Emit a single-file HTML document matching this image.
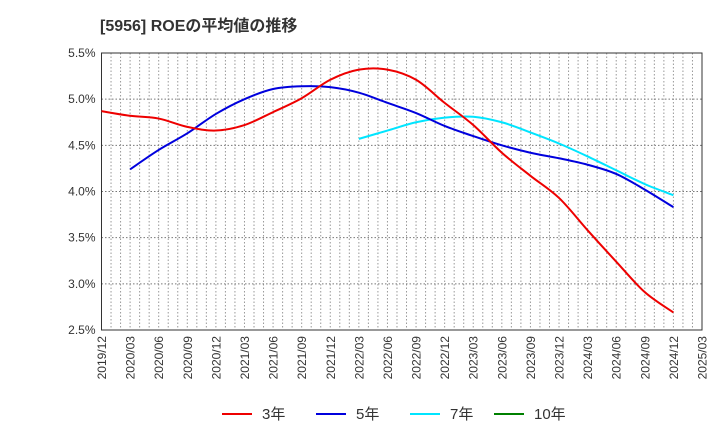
<!DOCTYPE html>
<html><head><meta charset="utf-8"><style>
body{margin:0;background:#fff;font-family:"Liberation Sans","Noto Sans CJK JP",sans-serif}
</style></head><body>
<svg width="720" height="440" xmlns="http://www.w3.org/2000/svg">
<text x="100" y="31" font-size="16" font-weight="bold" fill="#333" font-family="Liberation Sans,Noto Sans CJK JP,sans-serif">[5956]  ROEの平均値の推移</text>
<g id="grid"></g><g id="axes"></g><g id="series"></g><g id="legend"></g>
</svg>
<script>
const xLabels=["2019/12","2020/03","2020/06","2020/09","2020/12","2021/03","2021/06","2021/09","2021/12","2022/03","2022/06","2022/09","2022/12","2023/03","2023/06","2023/09","2023/12","2024/03","2024/06","2024/09","2024/12","2025/03"];
const yTicks=[2.5,3.0,3.5,4.0,4.5,5.0,5.5];
const roe3=[4.87,4.82,4.79,4.70,4.66,4.72,4.86,5.01,5.21,5.32,5.32,5.21,4.96,4.72,4.42,4.17,3.93,3.58,3.24,2.91,2.69];
const roe5=[null,4.24,4.45,4.63,4.84,5.00,5.11,5.14,5.13,5.07,4.96,4.85,4.71,4.60,4.50,4.42,4.36,4.29,4.19,4.02,3.83];
const roe7=[null,null,null,null,null,null,null,null,null,4.57,4.66,4.75,4.80,4.81,4.75,4.64,4.52,4.38,4.23,4.08,3.96];
const roe10=[];
const L=101.5,R=702,T=53,B=330,ns="http://www.w3.org/2000/svg";
const xs=i=>L+i*(R-L)/21, ys=v=>B-(v-2.5)*(B-T)/3;
function mk(t,a,p){const e=document.createElementNS(ns,t);for(const k in a)e.setAttribute(k,a[k]);document.getElementById(p).appendChild(e);return e;}
for(let m=1;m<63;m++){const x=L+m*(R-L)/63;const l=mk('line',{x1:x,x2:x,y1:T,y2:B,stroke:'#999','stroke-dasharray':'1.5,2','stroke-width':1},'grid');

}
yTicks.forEach(v=>{const y=ys(v);const l=mk('line',{x1:L,x2:R,y1:y,y2:y,stroke:'#777','stroke-dasharray':'1.5,2'},'grid');


const t=mk('text',{x:L-6,y:y+4,'text-anchor':'end','font-size':12,fill:'#333'},'axes');t.textContent=v.toFixed(1)+'%';

});
const fr=mk('rect',{x:L,y:T,width:R-L,height:B-T,fill:'none',stroke:'#333'},'axes');


xLabels.forEach((s,i)=>{const x=xs(i);const t=mk('text',{x:0,y:0,transform:`translate(${x+4.5},${B+6}) rotate(-90)`,'text-anchor':'end','font-size':12,fill:'#333'},'axes');t.textContent=s;

});
function path(data,col,name){const p=[];data.forEach((v,i)=>{if(v!=null)p.push([xs(i),ys(v)]);});if(p.length<2)return;
let d=`M${p[0][0]},${p[0][1]}`;for(let i=0;i<p.length-1;i++){const p0=p[i-1]||p[i],p1=p[i],p2=p[i+1],p3=p[i+2]||p2;
d+=` C${p1[0]+(p2[0]-p0[0])/6},${p1[1]+(p2[1]-p0[1])/6} ${p2[0]-(p3[0]-p1[0])/6},${p2[1]-(p3[1]-p1[1])/6} ${p2[0]},${p2[1]}`;}
const e=mk('path',{d:d,fill:'none',stroke:col,'stroke-width':2},'series');

}
path(roe7,'#00e5ff','line-7y');path(roe5,'#0000dd','line-5y');path(roe3,'#ee0000','line-3y');path(roe10,'#008000','line-10y');
[["3年",'#ee0000',222],["5年",'#0000dd',316],["7年",'#00e5ff',410],["10年",'#008000',494]].forEach(([s,c,x])=>{
const l=mk('line',{x1:x,x2:x+30,y1:414,y2:414,stroke:c,'stroke-width':2},'legend');


const t=mk('text',{x:x+40,y:419,'font-size':15,fill:'#333'},'legend');t.textContent=s;

});
</script>
</body></html>
